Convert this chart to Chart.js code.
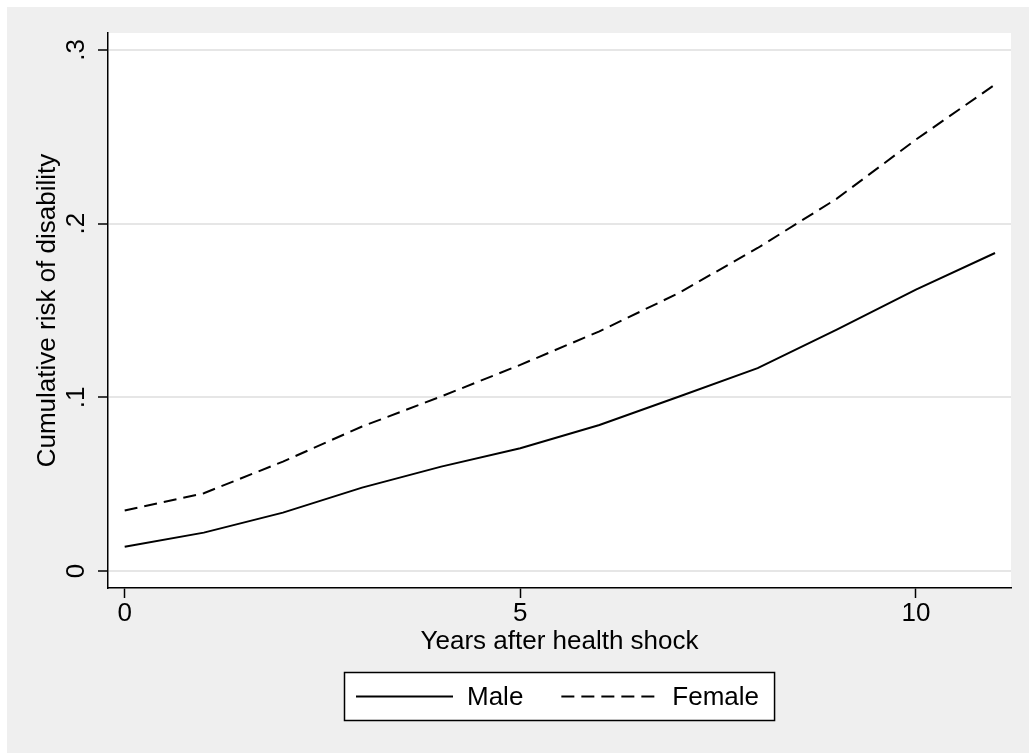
<!DOCTYPE html>
<html>
<head>
<meta charset="utf-8">
<script src="https://cdn.jsdelivr.net/npm/chart.js@4/dist/chart.umd.min.js"></script>
<style>
  html, body { margin: 0; padding: 0; background: #fff; }
  #wrap { width: 1029px; height: 753px; }
</style>
</head>
<body>
<div id="wrap"><canvas id="myChart" width="1029" height="753"></canvas></div>
<script>
// years since the health shock and cumulative risk for each group
const years = [0, 1, 2, 3, 4, 5, 6, 7, 8, 9, 10, 11];
const maleRisk = [0.0140, 0.0221, 0.0336, 0.0480, 0.0601, 0.0707, 0.0841, 0.1003, 0.1168, 0.1390, 0.1620, 0.1831];
const femaleRisk = [0.0348, 0.0448, 0.0630, 0.0832, 0.1005, 0.1187, 0.1380, 0.1600, 0.1860, 0.2144, 0.2484, 0.2801];
const xTicks = [0, 5, 10];
const yTicks = [0, 0.1, 0.2, 0.3];
const yTickLabels = ['0', '.1', '.2', '.3'];

const FONT = 'Liberation Sans, Arial, Helvetica, sans-serif';
const FSIZE = 26;

// grey backdrop with the white plot region on top
const backdrop = {
  id: 'backdrop',
  beforeDraw(chart) {
    const ctx = chart.ctx, a = chart.chartArea;
    ctx.save();
    ctx.fillStyle = '#ffffff';
    ctx.fillRect(0, 0, chart.width, chart.height);
    ctx.fillStyle = '#efefef';
    ctx.fillRect(7, 7, chart.width - 7, chart.height - 7);
    ctx.fillStyle = '#ffffff';
    ctx.fillRect(a.left, a.top, a.right - a.left, a.bottom - a.top);
    ctx.restore();
  }
};

// boxed legend under the x axis title
const boxLegend = {
  id: 'boxLegend',
  afterDraw(chart) {
    const ctx = chart.ctx, a = chart.chartArea;
    const sets = chart.data.datasets;
    ctx.save();
    ctx.font = FSIZE + 'px ' + FONT;
    const lineLen = 97, padL = 12, padR = 16, gapText = 14, gapItem = 38;
    let total = padL + padR;
    sets.forEach((d, i) => {
      total += lineLen + gapText + ctx.measureText(d.label).width;
      if (i < sets.length - 1) total += gapItem;
    });
    const boxH = 49, top = 672;
    const left = Math.round((a.left + a.right) / 2 - total / 2);
    ctx.fillStyle = '#ffffff';
    ctx.fillRect(left, top, total, boxH);
    ctx.strokeStyle = '#000';
    ctx.lineWidth = 1.5;
    ctx.strokeRect(left + 0.5, top + 0.5, total - 1, boxH - 1);
    const cy = top + boxH / 2;
    let x = left + padL;
    sets.forEach((d, i) => {
      ctx.beginPath();
      ctx.setLineDash(d.borderDash || []);
      ctx.lineWidth = d.borderWidth;
      ctx.strokeStyle = d.borderColor;
      ctx.moveTo(x, cy);
      ctx.lineTo(x + lineLen, cy);
      ctx.stroke();
      ctx.setLineDash([]);
      x += lineLen + gapText;
      ctx.fillStyle = '#000';
      ctx.textBaseline = 'middle';
      ctx.textAlign = 'left';
      ctx.fillText(d.label, x, cy + 1);
      x += ctx.measureText(d.label).width + gapItem;
    });
    ctx.restore();
  }
};

const ctx = document.getElementById('myChart').getContext('2d');
new Chart(ctx, {
  type: 'line',
  data: {
    labels: years,
    datasets: [
      {
        label: 'Male',
        data: years.map((y, i) => ({ x: y, y: maleRisk[i] })),
        borderColor: '#000',
        borderWidth: 2,
        pointRadius: 0,
        tension: 0,
        fill: false
      },
      {
        label: 'Female',
        data: years.map((y, i) => ({ x: y, y: femaleRisk[i] })),
        borderColor: '#000',
        borderWidth: 2,
        borderDash: [13, 7],
        pointRadius: 0,
        tension: 0,
        fill: false
      }
    ]
  },
  options: {
    responsive: false,
    animation: false,
    layout: { padding: { left: 0, top: 33, right: 18, bottom: 0 } },
    plugins: {
      legend: { display: false },
      tooltip: { enabled: false }
    },
    scales: {
      x: {
        type: 'linear',
        min: -0.211,
        max: 11.202,
        afterBuildTicks: s => { s.ticks = xTicks.map(v => ({ value: v })); },
        afterFit: s => { s.height = 165; },
        grid: { drawOnChartArea: false, tickLength: 10, tickColor: '#000', tickWidth: 1.5 },
        border: { color: '#000', width: 1.5 },
        ticks: { color: '#000', font: { family: FONT, size: FSIZE }, padding: 0,
                 maxRotation: 0, callback: v => String(v) },
        title: { display: true, text: 'Years after health shock', color: '#000',
                 font: { family: FONT, size: FSIZE }, padding: { top: 0, bottom: 96 } }
      },
      y: {
        min: -0.00979,
        max: 0.30979,
        afterBuildTicks: s => { s.ticks = yTicks.map(v => ({ value: v })); },
        afterFit: s => { s.width = 108; },
        grid: { color: '#e6e6e6', lineWidth: 2, tickLength: 10, tickColor: '#000', tickWidth: 1.5 },
        border: { color: '#000', width: 1.5 },
        ticks: { color: '#000', font: { family: FONT, size: FSIZE }, padding: 10,
                 minRotation: 90, maxRotation: 90, crossAlign: 'center',
                 callback: v => yTickLabels[yTicks.indexOf(v)] },
        title: { display: true, text: 'Cumulative risk of disability', color: '#000',
                 font: { family: FONT, size: FSIZE }, padding: { top: 32, bottom: 0 } }
      }
    }
  },
  plugins: [backdrop, boxLegend]
});
</script>
</body>
</html>
